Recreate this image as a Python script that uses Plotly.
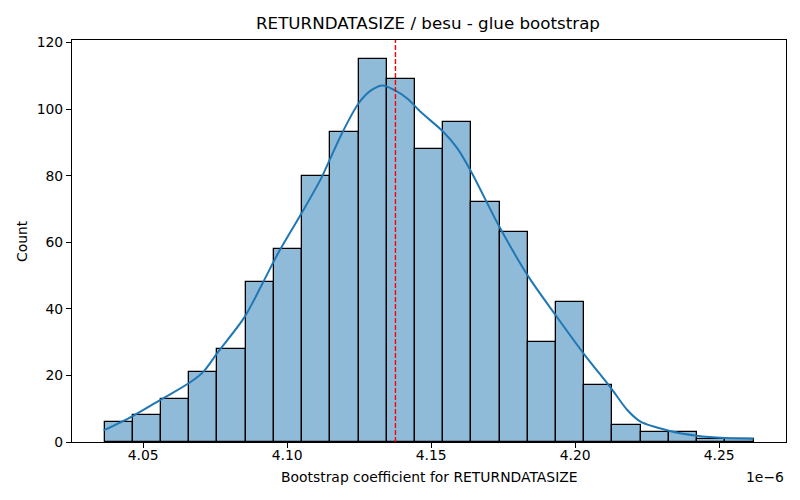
import numpy as np
import plotly.graph_objects as go

# histogram of bootstrap coefficients (values in units of 1e-6)
bin_start = 4.0366
bin_width = 0.009797
counts = [6, 8, 13, 21, 28, 48, 58, 80, 93, 115, 109, 88, 96, 72, 63, 30, 42, 17, 5, 3, 3, 1, 1]

# kde curve (scaled to counts)
kde_x = [4.0363, 4.0464, 4.0563, 4.0661, 4.0708, 4.0759, 4.0852, 4.0916, 4.0968, 4.1054,
         4.1118, 4.1150, 4.1193, 4.1247, 4.1291, 4.1332, 4.1375, 4.1418, 4.1464, 4.1542,
         4.1591, 4.1639, 4.1736, 4.1836, 4.1933, 4.2030, 4.2127, 4.2181, 4.2227, 4.2325,
         4.2422, 4.2519, 4.2619]
kde_y = [3.5, 7.8, 12.8, 17.8, 21.0, 26.9, 37.5, 47.9, 56.6, 69.3,
         79.2, 85.2, 93.2, 101.6, 105.6, 107.1, 105.6, 103.1, 99.1, 93.2,
         88.2, 81.2, 64.8, 49.9, 38.0, 26.5, 15.9, 9.6, 6.1, 3.4,
         1.9, 1.2, 1.0]

mean_value = 4.1376
x_ticks = [4.05, 4.10, 4.15, 4.20, 4.25]
y_ticks = [0, 20, 40, 60, 80, 100, 120]

centers = bin_start + bin_width * (np.arange(len(counts)) + 0.5)

fig = go.Figure()
fig.add_trace(go.Bar(x=centers, y=counts, width=bin_width,
                     marker=dict(color='rgba(31,119,180,0.5)',
                                 line=dict(color='black', width=1.3)),
                     showlegend=False))
fig.add_trace(go.Scatter(x=kde_x, y=kde_y, mode='lines',
                         line=dict(color='#1f77b4', width=2, shape='spline', smoothing=0.8),
                         showlegend=False))

fig.add_shape(type='line', xref='x', yref='paper', x0=mean_value, x1=mean_value, y0=0, y1=1,
              line=dict(color='#ff0000', width=1.4, dash='5px,2px'))

axis_style = dict(showline=True, mirror=True, linecolor='black', linewidth=1.1,
                  ticks='outside', ticklen=5, tickwidth=1.1, tickcolor='black',
                  showgrid=False, zeroline=False, tickfont=dict(size=13.9, color='black'))

# page body has an 8px margin, so the figure is sized/offset to compensate
fig.update_layout(
    width=792, height=492,
    margin=dict(l=64, r=14, t=32, b=58),
    plot_bgcolor='white', paper_bgcolor='white',
    font=dict(family='DejaVu Sans', color='black'),
    bargap=0,
    title=dict(text='RETURNDATASIZE / besu - glue bootstrap', x=0.5303, xanchor='center',
               xref='container', yref='container', y=0.969, yanchor='middle',
               font=dict(size=16.7)),
    xaxis=dict(range=[4.0253, 4.2732], tickvals=x_ticks, ticklabelstandoff=-5,
               ticktext=['%.2f' % v for v in x_ticks], **axis_style),
    yaxis=dict(range=[0, 120.75], tickvals=y_ticks, **axis_style),
)

fig.add_annotation(text='Bootstrap coefficient for RETURNDATASIZE', xref='paper', yref='paper',
                   x=0.5, y=0, yshift=-35, yanchor='middle', showarrow=False,
                   font=dict(size=13.9))
fig.add_annotation(text='Count', xref='paper', yref='paper', x=0, y=0.5, xshift=-50,
                   xanchor='center', textangle=-90, showarrow=False, font=dict(size=13.9))
fig.add_annotation(text='1e\u22126', xref='paper', yref='paper', x=1, y=0, yshift=-35,
                   xanchor='right', yanchor='middle', showarrow=False, font=dict(size=13.9))

fig.write_html("out.html")
